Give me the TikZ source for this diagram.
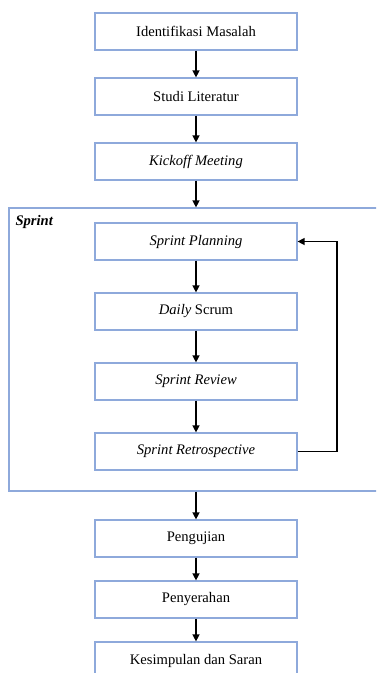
\documentclass[tikz,border=0pt]{standalone}
\usepackage{fontspec}
\setmainfont{Liberation Serif}
\usetikzlibrary{arrows.meta}
\definecolor{boxblue}{HTML}{8EA9DB}
\tikzset{
  stepbox/.style={draw=boxblue, line width=1.2pt, fill=white, minimum width=202pt, minimum height=37pt, inner sep=0pt, font=\fontsize{14.6pt}{16pt}\selectfont},
  frame/.style={draw=boxblue, line width=1.2pt, minimum width=391pt, minimum height=283pt, inner sep=0pt},
  conn/.style={line width=1.3pt, -{Triangle[width=7pt,length=7pt]}}
}
\begin{document}
\begin{tikzpicture}[x=1pt,y=-1pt]
\clip (0,0) rectangle (376,673);
\fill[white] (0,0) rectangle (376,673);
\node[frame] (sprint) at (204.5,349.5) {};
\node[anchor=west, font=\fontsize{14.6pt}{16pt}\selectfont\bfseries\itshape] (sprintlabel) at (12,222) {Sprint};
\node[stepbox] (a) at (196,31.5) {Identifikasi Masalah};
\node[stepbox] (b) at (196,96.5) {Studi Literatur};
\node[stepbox] (c) at (196,161.5) {\itshape Kickoff Meeting};
\node[stepbox] (d) at (196,241.5) {\itshape Sprint Planning};
\node[stepbox] (e) at (196,311.5) {\textit{Daily} Scrum};
\node[stepbox] (f) at (196,381.5) {\itshape Sprint Review};
\node[stepbox] (g) at (196,451.5) {\itshape Sprint Retrospective};
\node[stepbox] (h) at (196,538.5) {Pengujian};
\node[stepbox] (i) at (196,599.5) {Penyerahan};
\node[stepbox] (j) at (196,660.5) {Kesimpulan dan Saran};
\draw[conn] (a) -- (b);
\draw[conn] (b) -- (c);
\draw[conn] (c.south) -- (c.south |- sprint.north);
\draw[conn] (d) -- (e);
\draw[conn] (e) -- (f);
\draw[conn] (f) -- (g);
\draw[conn] (g.east) -| (337,241.5) -- (d.east);
\draw[conn] (h.north |- sprint.south) -- (h.north);
\draw[conn] (h) -- (i);
\draw[conn] (i) -- (j);
\end{tikzpicture}
\end{document}
